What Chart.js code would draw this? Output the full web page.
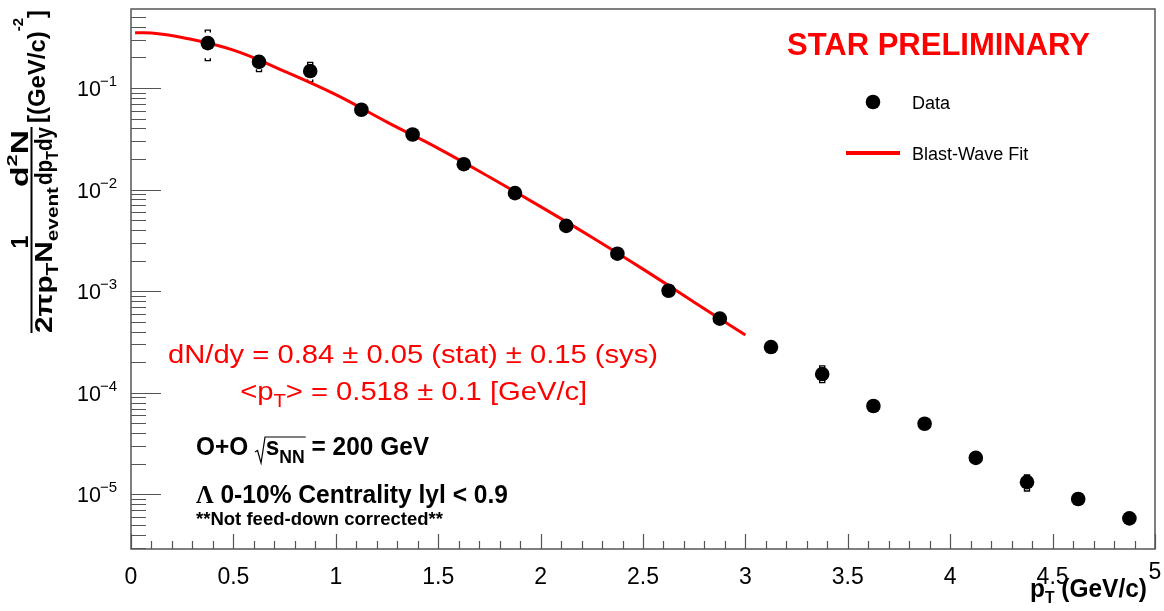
<!DOCTYPE html>
<html>
<head>
<meta charset="utf-8">
<script src="https://cdn.jsdelivr.net/npm/chart.js@4.4.1/dist/chart.umd.min.js"></script>
<style>
html,body{margin:0;padding:0;background:#fff;}
#wrap{width:1164px;height:611px;position:relative;}
</style>
</head>
<body>
<div id="wrap"><canvas id="spectrum"></canvas></div>
<script>
// Lambda pT spectrum, O+O 200 GeV, 0-10% centrality

const pt = [0.375, 0.625, 0.875, 1.125, 1.375, 1.625, 1.875, 2.125, 2.375, 2.625,
            2.875, 3.125, 3.375, 3.625, 3.875, 4.125, 4.375, 4.625, 4.875];
const yields = [0.277, 0.181, 0.147, 0.0611, 0.0349, 0.0178, 0.00924, 0.0044, 0.00234, 0.00101,
                0.000537, 0.000282, 0.000153, 0.0000742, 0.0000496, 0.0000229, 0.0000132, 0.0000090, 0.0000058];
// systematic error bounds
const sysHigh = [0.372, 0.208, 0.179, 0.066, 0.038, 0.0193, 0.0101, 0.0049, 0.00252, 0.00109,
                 0.00058, 0.0003, 0.000184, 0.000079, 0.000053, 0.0000245, 0.0000155, 0.0000096, 0.0000062];
const sysLow = [0.186, 0.145, 0.115, 0.056, 0.032, 0.0163, 0.0084, 0.0039, 0.00216, 0.00093,
                0.000495, 0.000265, 0.000126, 0.000069, 0.000046, 0.0000213, 0.0000108, 0.0000084, 0.0000054];

// blast-wave fit curve
const fitPt = [0.02, 0.1, 0.25, 0.5, 0.75, 1.0, 1.25, 1.5, 1.75, 2.0, 2.25, 2.5, 2.75, 3.0];
const fitVals = [0.35, 0.348, 0.315, 0.236, 0.146, 0.086, 0.0462, 0.0255, 0.0133, 0.0068, 0.0034, 0.00165, 0.00078, 0.00037];

const xMajor = [0, 0.5, 1, 1.5, 2, 2.5, 3, 3.5, 4, 4.5, 5];
const xLabels = ["0", "0.5", "1", "1.5", "2", "2.5", "3", "3.5", "4", "4.5", "5"];
const yDecades = [-1, -2, -3, -4, -5];

const FONT = '"Liberation Sans", Arial, Helvetica, sans-serif';
const RED = "#ff0000";

function f(size, bold){
  return (bold ? "bold " : "") + size + "px " + FONT;
}

// draw a row of text pieces (sub/superscripts), optionally stretched to a width
function runs(ctx, parts, x, y, align, targetW){
  let w = 0;
  const widths = parts.map(p => {
    ctx.font = p.f;
    const pw = p.w !== undefined ? p.w : ctx.measureText(p.t).width;
    w += pw;
    return pw;
  });
  const s = targetW ? targetW / w : 1;
  let cx = 0;
  if(align === "center") cx = -w / 2;
  if(align === "right") cx = -w;
  const pos = [];
  ctx.save();
  ctx.translate(x, y);
  ctx.scale(s, 1);
  parts.forEach((p, i) => {
    pos.push(x + cx * s);
    if(p.t){
      ctx.font = p.f;
      ctx.fillText(p.t, cx, p.dy || 0);
    }
    cx += widths[i];
  });
  ctx.restore();
  pos.push(x + cx * s);
  return pos;
}

const rootStyle = {
  id: "rootStyle",

  beforeDatasetsDraw(chart){
    const ctx = chart.ctx;
    const xs = chart.scales.x, ys = chart.scales.y;
    ctx.save();
    ctx.strokeStyle = "#000";
    ctx.lineWidth = 1.4;
    pt.forEach((p, i) => {
      const px = xs.getPixelForValue(p);
      const hi = ys.getPixelForValue(sysHigh[i]);
      const lo = ys.getPixelForValue(sysLow[i]);
      ctx.beginPath();
      ctx.moveTo(px - 2.5, hi + 2.5); ctx.lineTo(px - 2.5, hi); ctx.lineTo(px + 2.5, hi); ctx.lineTo(px + 2.5, hi + 2.5);
      ctx.moveTo(px - 2.5, lo - 2.5); ctx.lineTo(px - 2.5, lo); ctx.lineTo(px + 2.5, lo); ctx.lineTo(px + 2.5, lo - 2.5);
      ctx.stroke();
    });
    ctx.restore();
  },

  afterDraw(chart){
    const ctx = chart.ctx;
    const a = chart.chartArea;
    const xs = chart.scales.x, ys = chart.scales.y;

    ctx.save();

    // frame
    ctx.strokeStyle = "#555";
    ctx.lineWidth = 1.5;
    ctx.strokeRect(a.left, a.top, a.right - a.left, a.bottom - a.top);

    // y ticks (inside)
    ctx.beginPath();
    for(let d = -6; d <= 0; d++){
      for(let k = 1; k <= 9; k++){
        const v = k * Math.pow(10, d);
        if(v < ys.min || v > ys.max) continue;
        const py = Math.round(ys.getPixelForValue(v)) + 0.5;
        ctx.moveTo(a.left, py);
        ctx.lineTo(a.left + (k === 1 ? 30 : 15), py);
      }
    }
    // x ticks
    for(let i = 0; i <= 50; i++){
      const v = i / 10;
      const px = Math.round(xs.getPixelForValue(v)) + 0.5;
      ctx.moveTo(px, a.bottom);
      ctx.lineTo(px, a.bottom - (i % 5 === 0 ? 15 : 8));
    }
    ctx.lineWidth = 1.2;
    ctx.stroke();

    ctx.fillStyle = "#000";
    ctx.textBaseline = "alphabetic";
    ctx.textAlign = "left";

    // y labels 10^n
    yDecades.forEach(d => {
      const py = ys.getPixelForValue(Math.pow(10, d));
      ctx.font = f(21.5, false);
      ctx.fillText("10", 77, py + 8);
      ctx.font = f(15, false);
      ctx.fillText("\u2212" + (-d), 100, py - 2);
    });

    // x labels
    ctx.textAlign = "center";
    ctx.font = f(23, false);
    xMajor.forEach((v, i) => {
      const lift = i === xMajor.length - 1 ? 5 : 0;
      ctx.fillText(xLabels[i], xs.getPixelForValue(v), 583.5 - lift);
    });

    ctx.textAlign = "left";

    // x title
    runs(ctx, [
      {t: "p", f: f(25, true)},
      {t: "T", f: f(16, true), dy: 6},
      {t: " (GeV/c)", f: f(25, true)}
    ], 1030, 597, "left", 117);

    // y title, rotated
    ctx.save();
    ctx.rotate(-Math.PI / 2);
    runs(ctx, [
      {t: "2\u03c0p", f: f(23, true)},
      {t: "T", f: f(16, true), dy: 6},
      {t: "N", f: f(23, true)},
      {t: "event", f: f(16, true), dy: 6}
    ], -333, 52, "left", 146);
    runs(ctx, [{t: "1", f: f(23, true)}], -242, 27.5, "center");
    runs(ctx, [
      {t: "d", f: f(23, true)},
      {t: "2", f: f(15, true), dy: -11},
      {t: "N", f: f(23, true)}
    ], -158.5, 27.5, "center", 57);
    runs(ctx, [
      {t: "dp", f: f(23, true)},
      {t: "T", f: f(16, true), dy: 6},
      {t: "dy", f: f(23, true)}
    ], -185, 52, "left", 58);
    runs(ctx, [
      {t: "[(GeV/c)", f: f(24, true)},
      {t: "-2", f: f(15, true), dy: -22},
      {t: "]", f: f(24, true)}
    ], -123, 45, "left", 113);
    ctx.beginPath();
    ctx.moveTo(-333, 31.5);
    ctx.lineTo(-127, 31.5);
    ctx.lineWidth = 2;
    ctx.strokeStyle = "#000";
    ctx.stroke();
    ctx.restore();

    // STAR label
    ctx.fillStyle = RED;
    runs(ctx, [{t: "STAR PRELIMINARY", f: f(31, true)}], 787, 55, "left", 303);

    // legend
    ctx.fillStyle = "#000";
    ctx.beginPath();
    ctx.arc(873, 102, 7.3, 0, Math.PI * 2);
    ctx.fill();
    ctx.font = f(18, false);
    ctx.fillText("Data", 912, 109);
    ctx.beginPath();
    ctx.moveTo(846, 153);
    ctx.lineTo(900, 153);
    ctx.strokeStyle = RED;
    ctx.lineWidth = 4;
    ctx.stroke();
    ctx.fillText("Blast-Wave Fit", 912, 160);

    // fit results
    ctx.fillStyle = RED;
    runs(ctx, [{t: "dN/dy = 0.84 \u00b1 0.05 (stat) \u00b1 0.15 (sys)", f: f(26, false)}], 413, 363, "center", 490);
    runs(ctx, [
      {t: "<p", f: f(26, false)},
      {t: "T", f: f(18, false), dy: 7},
      {t: "> = 0.518 \u00b1 0.1 [GeV/c]", f: f(26, false)}
    ], 413.7, 400, "center", 347);

    // system labels
    ctx.fillStyle = "#000";
    const pos = runs(ctx, [
      {t: "O+O ", f: f(25, true)},
      {t: "", f: f(25, true), w: 11},
      {t: "s", f: f(25, true)},
      {t: "NN", f: f(18, true), dy: 8},
      {t: " = 200 GeV", f: f(25, true)}
    ], 196, 455, "left", 233);
    // square root sign
    const r0 = pos[1];
    ctx.beginPath();
    ctx.moveTo(r0, 452);
    ctx.lineTo(r0 + 2.5, 450.5);
    ctx.lineTo(r0 + 6, 463);
    ctx.lineTo(r0 + 10, 437);
    ctx.lineTo(pos[4] + 1, 437);
    ctx.strokeStyle = "#000";
    ctx.lineWidth = 1.2;
    ctx.stroke();

    runs(ctx, [
      {t: "\u039b", f: "bold 25px \"Liberation Serif\", serif"},
      {t: " 0-10% Centrality lyl < 0.9", f: f(25, true)}
    ], 196, 503, "left", 312);
    runs(ctx, [{t: "**Not feed-down corrected**", f: f(18, true)}], 196, 525, "left", 247);

    ctx.restore();
  }
};

const ctx = document.getElementById("spectrum");

new Chart(ctx, {
  data: {
    datasets: [
      {
        type: "scatter",
        label: "Data",
        data: pt.map((x, i) => ({x: x, y: yields[i]})),
        backgroundColor: "#000",
        borderWidth: 0,
        pointRadius: 7.3,
        order: 1
      },
      {
        type: "line",
        label: "Blast-Wave Fit",
        data: fitPt.map((x, i) => ({x: x, y: fitVals[i]})),
        borderColor: RED,
        borderWidth: 3,
        pointRadius: 0,
        tension: 0.4,
        fill: false,
        order: 2
      }
    ]
  },
  options: {
    responsive: true,
    maintainAspectRatio: false,
    animation: false,
    layout: {padding: {left: 131, right: 9, top: 9, bottom: 62}},
    plugins: {legend: {display: false}, tooltip: {enabled: false}},
    scales: {
      x: {type: "linear", min: 0, max: 5, display: false},
      y: {type: "logarithmic", min: 2.9e-6, max: 0.6, display: false}
    }
  },
  plugins: [rootStyle]
});
</script>
</body>
</html>
